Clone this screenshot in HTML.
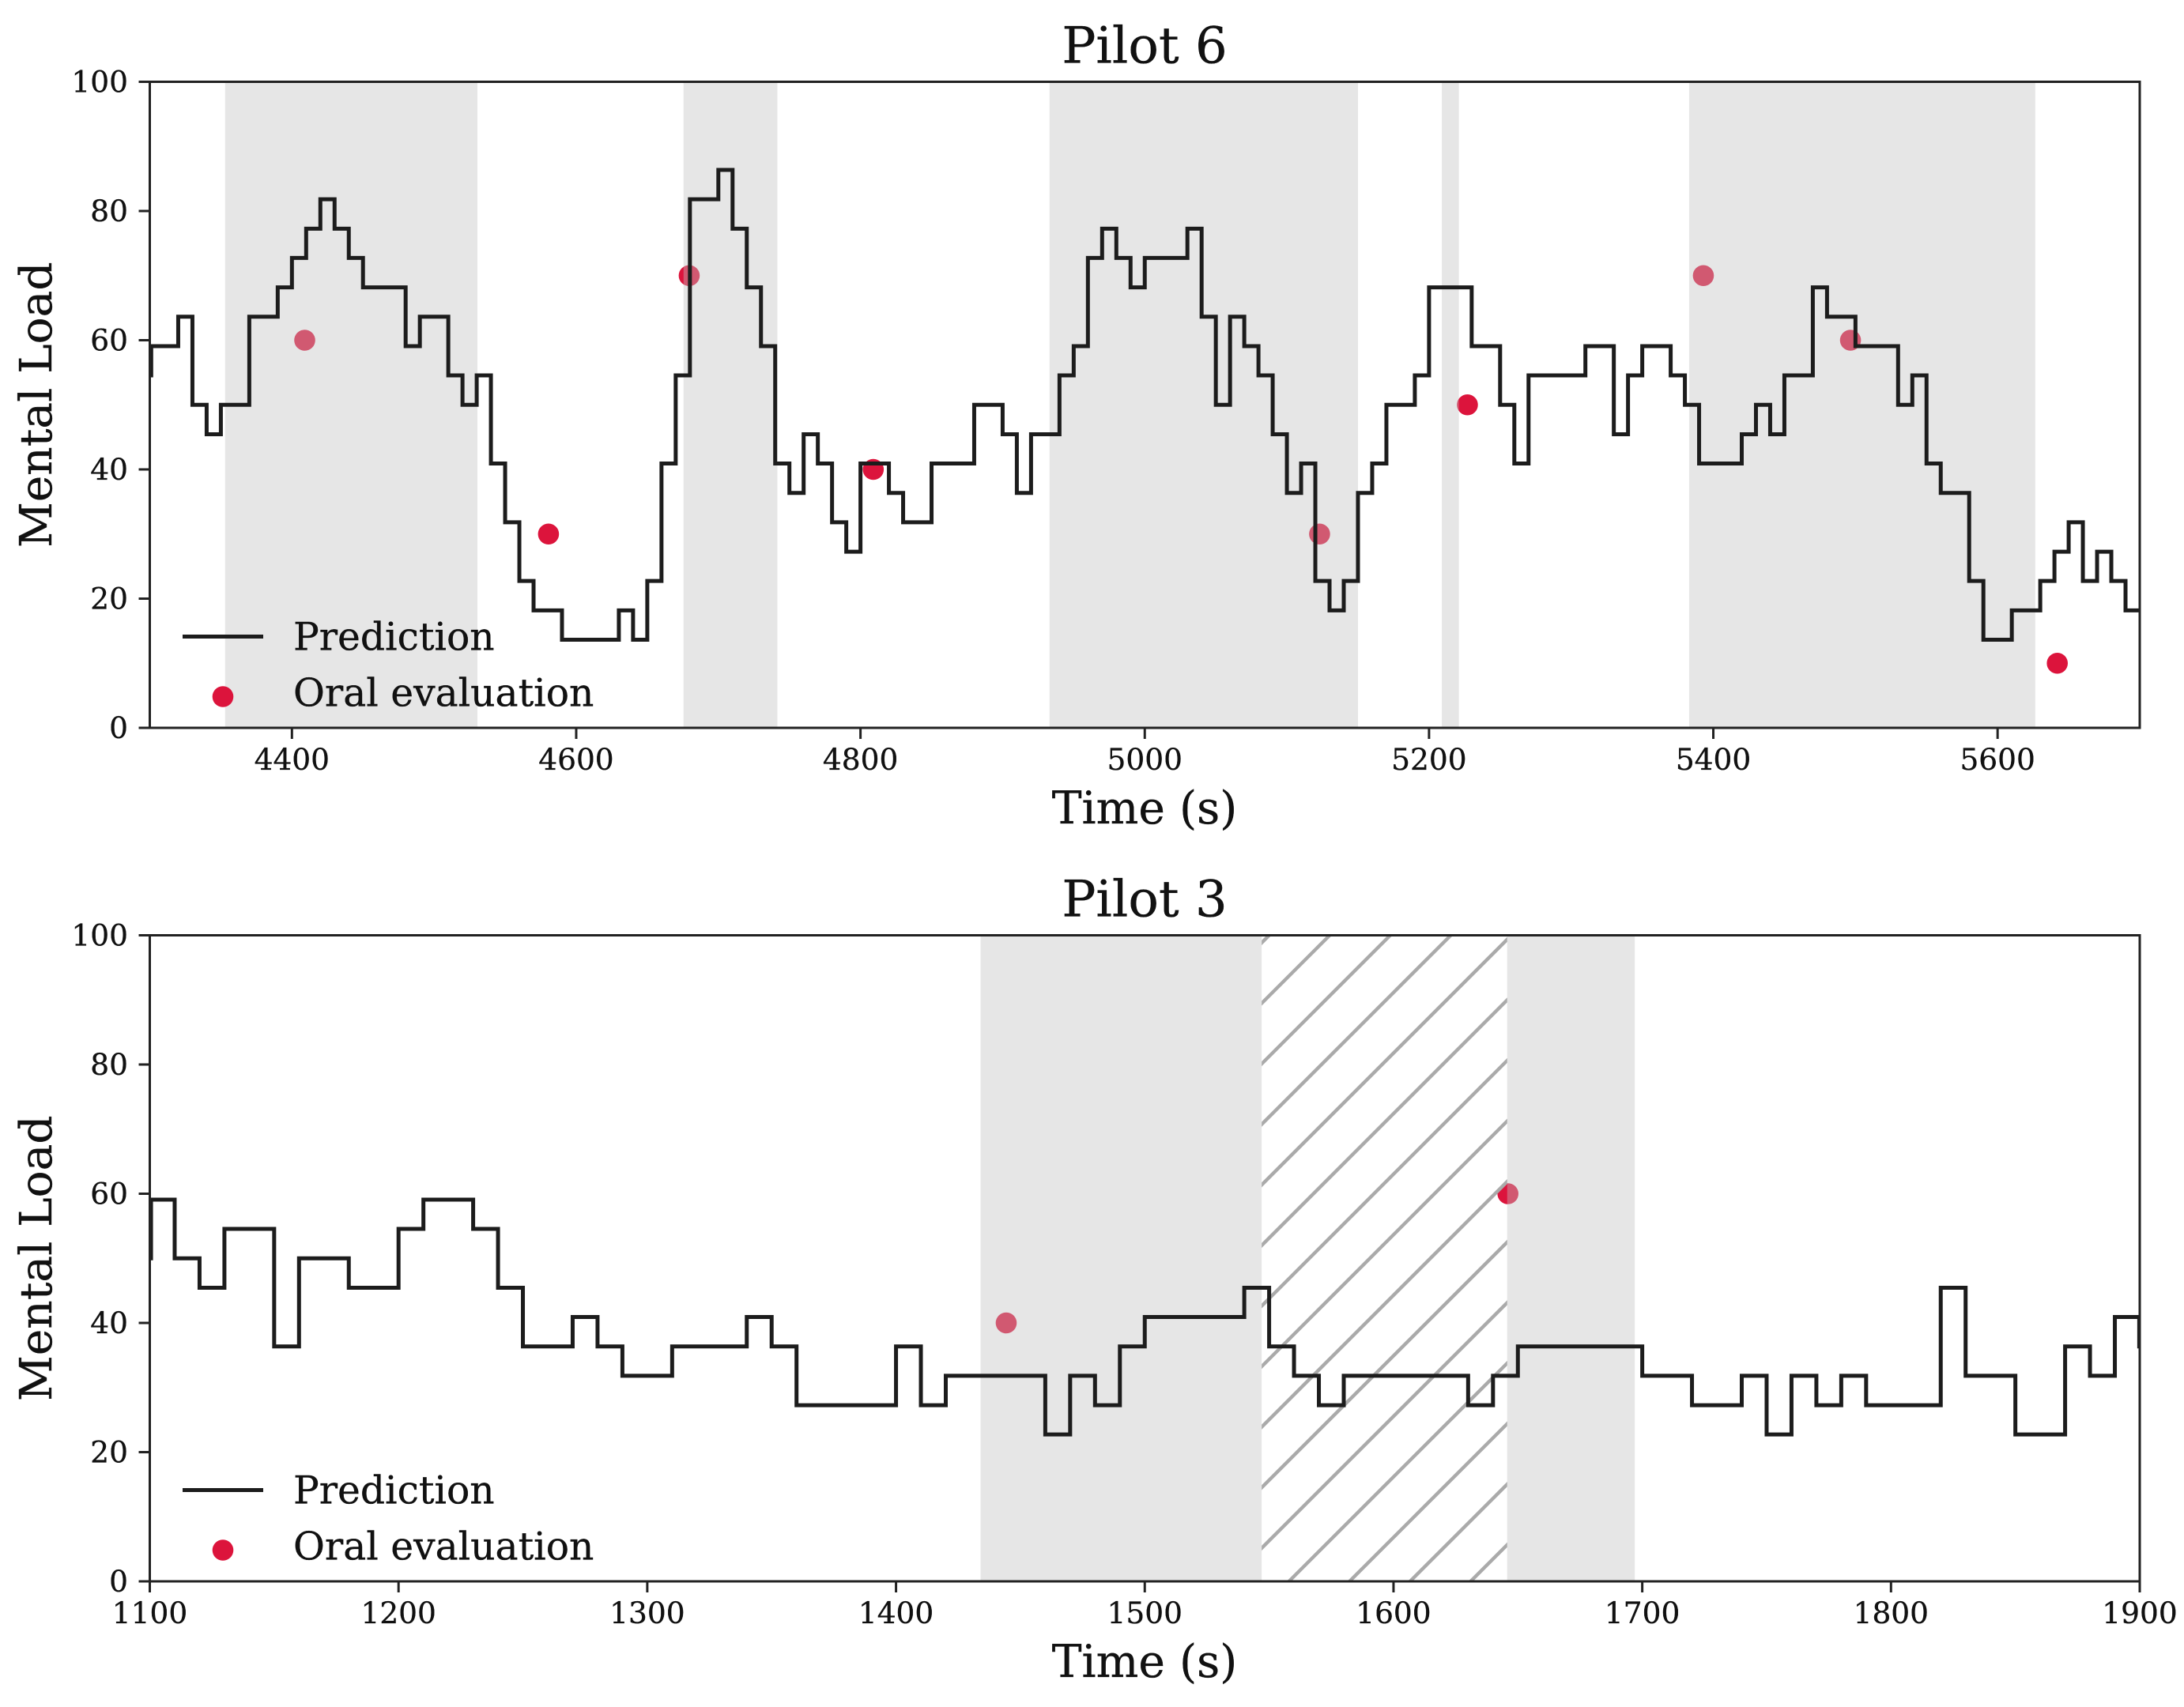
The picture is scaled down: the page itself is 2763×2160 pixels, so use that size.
<!DOCTYPE html>
<html>
<head>
<meta charset="utf-8">
<title>Mental load prediction</title>
<style>
html,body{margin:0;padding:0;background:#fff;width:2763px;height:2160px;overflow:hidden}
svg{display:block}
text{font-family:"DejaVu Serif","Liberation Serif",serif;fill:#111;stroke:#111;stroke-width:0.35px}
</style>
</head>
<body>
<svg id="figure" xmlns="http://www.w3.org/2000/svg" width="2763" height="2160" viewBox="0 0 2763 2160"></svg>
<script>
var yTicks = [0, 20, 40, 60, 80, 100];

var p6Ticks = [4400, 4600, 4800, 5000, 5200, 5400, 5600];
var p6Times = [4300,4301,4320,4330,4340,4350,4370,4390,4400,4410,4420,4430,4440,4450,4480,4490,4510,4520,4530,4540,4550,4560,4570,4590,4630,4640,4650,4660,4670,4680,4700,4710,4720,4730,4740,4750,4760,4770,4780,4790,4800,4820,4830,4850,4880,4900,4910,4920,4940,4950,4960,4970,4980,4990,5000,5030,5040,5050,5060,5070,5080,5090,5100,5110,5120,5130,5140,5150,5160,5170,5190,5200,5230,5250,5260,5270,5310,5330,5340,5350,5370,5380,5390,5420,5430,5440,5450,5470,5480,5500,5530,5540,5550,5560,5580,5590,5610,5630,5640,5650,5660,5670,5680,5690,5700];
var p6Values = [54.55,59.09,63.64,50,45.45,50,63.64,68.18,72.73,77.27,81.82,77.27,72.73,68.18,59.09,63.64,54.55,50,54.55,40.91,31.82,22.73,18.18,13.64,18.18,13.64,22.73,40.91,54.55,81.82,86.36,77.27,68.18,59.09,40.91,36.36,45.45,40.91,31.82,27.27,40.91,36.36,31.82,40.91,50,45.45,36.36,45.45,54.55,59.09,72.73,77.27,72.73,68.18,72.73,77.27,63.64,50,63.64,59.09,54.55,45.45,36.36,40.91,22.73,18.18,22.73,36.36,40.91,50,54.55,68.18,59.09,50,40.91,54.55,59.09,45.45,54.55,59.09,54.55,50,40.91,45.45,50,45.45,54.55,68.18,63.64,59.09,50,54.55,40.91,36.36,22.73,13.64,18.18,22.73,27.27,31.82,22.73,27.27,22.73,18.18,18.18];
var p6OralTimes = [4409, 4580.5, 4679.5, 4809, 5123, 5227, 5393, 5496.5, 5642];
var p6OralValues = [60, 30, 70, 40, 30, 50, 70, 60, 10];
var p6ShadeStarts = [4353, 4675.5, 4933, 5209, 5383];
var p6ShadeEnds = [4530.5, 4741.5, 5150, 5221, 5626.5];
var p6HatchStarts = [];
var p6HatchEnds = [];

var p3Ticks = [1100, 1200, 1300, 1400, 1500, 1600, 1700, 1800, 1900];
var p3Times = [1100,1100.5,1110,1120,1130,1150,1160,1180,1200,1210,1230,1240,1250,1270,1280,1290,1310,1340,1350,1360,1400,1410,1420,1460,1470,1480,1490,1500,1540,1550,1560,1570,1580,1630,1640,1650,1700,1720,1740,1750,1760,1770,1780,1790,1820,1830,1850,1870,1880,1890,1899.8,1900];
var p3Values = [50,59.09,50,45.45,54.55,36.36,50,45.45,54.55,59.09,54.55,45.45,36.36,40.91,36.36,31.82,36.36,40.91,36.36,27.27,36.36,27.27,31.82,22.73,31.82,27.27,36.36,40.91,45.45,36.36,31.82,27.27,31.82,27.27,31.82,36.36,31.82,27.27,31.82,22.73,31.82,27.27,31.82,27.27,45.45,31.82,22.73,36.36,31.82,40.91,36.36,36.36];
var p3OralTimes = [1444.3, 1646];
var p3OralValues = [40, 60];
var p3ShadeStarts = [1434, 1645.7];
var p3ShadeEnds = [1547, 1697];
var p3HatchStarts = [1547];
var p3HatchEnds = [1645.7];

var NS = 'http://www.w3.org/2000/svg';
var svg = document.getElementById('figure');
var plotLeft = 189.5, plotRight = 2707, plotWidth = plotRight - plotLeft, plotHeight = 817.5;

function make(parent, tag, attrs, txt) {
  var el = document.createElementNS(NS, tag);
  for (var k in attrs) el.setAttribute(k, attrs[k]);
  if (txt !== undefined) el.textContent = txt;
  parent.appendChild(el);
  return el;
}

function drawPanel(prefix, title, top, xMin, xMax, xTicks, times, values, oralTimes, oralValues, shadeStarts, shadeEnds, hatchStarts, hatchEnds) {
  var bottom = top + plotHeight;
  function xs(t) { return plotLeft + (t - xMin) / (xMax - xMin) * plotWidth; }
  function ys(v) { return bottom - v / 100 * plotHeight; }

  var g = make(svg, 'g', {});
  
  

  var clipId = prefix + '-clip';
  var defs = make(g, 'defs', {});
  var clip = make(defs, 'clipPath', {id: clipId});
  make(clip, 'rect', {x: plotLeft, y: top, width: plotWidth, height: plotHeight});

  var plot = make(g, 'g', {'clip-path': 'url(#' + clipId + ')'});

  // oral evaluation dots sit underneath the translucent shading
  for (var i = 0; i < oralTimes.length; i++) {
    var dot = make(plot, 'circle', {cx: xs(oralTimes[i]), cy: ys(oralValues[i]), r: 13.3, fill: '#dc143c'});
    
    
  }

  for (var s = 0; s < shadeStarts.length; s++) {
    var band = make(plot, 'rect', {x: xs(shadeStarts[s]), y: top, width: xs(shadeEnds[s]) - xs(shadeStarts[s]), height: plotHeight, fill: 'rgb(192,192,192)', 'fill-opacity': 0.4});
    
    
  }

  for (var h = 0; h < hatchStarts.length; h++) {
    var hClipId = prefix + '-hatch-clip-' + h;
    var hClip = make(defs, 'clipPath', {id: hClipId});
    var hx0 = xs(hatchStarts[h]), hx1 = xs(hatchEnds[h]);
    make(hClip, 'rect', {x: hx0, y: top, width: hx1 - hx0, height: plotHeight});
    var hg = make(plot, 'g', {'clip-path': 'url(#' + hClipId + ')', stroke: '#aaaaaa', 'stroke-width': 4.4});
    
    
    var spacing = 76.6;
    for (var c = 2942.3 - 12 * spacing; c < 2942.3 + 20 * spacing; c += spacing) {
      var segStart = Math.max(hx0, c - bottom);
      var segEnd = Math.min(hx1, c - top);
      if (segEnd > segStart) {
        make(hg, 'line', {x1: segStart - 4, y1: c - segStart + 4, x2: segEnd + 4, y2: c - segEnd - 4});
      }
    }
  }

  var d = 'M' + xs(times[0]).toFixed(2) + ' ' + ys(values[0]).toFixed(2);
  for (var j = 1; j < times.length; j++) {
    d += 'H' + xs(times[j]).toFixed(2);
    d += 'V' + ys(values[j]).toFixed(2);
  }
  var line = make(plot, 'path', {d: d, fill: 'none', stroke: '#1c1c1c', 'stroke-width': 5, 'stroke-linejoin': 'miter'});
  
  

  var frame = make(g, 'rect', {x: plotLeft, y: top, width: plotWidth, height: plotHeight, fill: 'none', stroke: '#222', 'stroke-width': 3});
  
  

  for (var a = 0; a < yTicks.length; a++) {
    var ty = ys(yTicks[a]);
    var ytick = make(g, 'line', {x1: plotLeft - 14, y1: ty, x2: plotLeft, y2: ty, stroke: '#222', 'stroke-width': 3});
    
    
    var ylab = make(g, 'text', {x: 162, y: ty + 13, 'text-anchor': 'end', 'font-size': 37.5}, String(yTicks[a]));
    
    
  }

  for (var b = 0; b < xTicks.length; b++) {
    var tx = xs(xTicks[b]);
    var xtick = make(g, 'line', {x1: tx, y1: bottom, x2: tx, y2: bottom + 14, stroke: '#222', 'stroke-width': 3});
    
    
    var xlab = make(g, 'text', {x: tx, y: bottom + 53, 'text-anchor': 'middle', 'font-size': 37.5}, String(xTicks[b]));
    
    
  }

  var titleEl = make(g, 'text', {x: 1448, y: top - 24, 'text-anchor': 'middle', 'font-size': 64}, title);
  
  

  var xTitle = make(g, 'text', {x: 1448, y: bottom + 121, 'text-anchor': 'middle', 'font-size': 56.7}, 'Time (s)');
  
  

  var yc = top + plotHeight / 2;
  var yTitle = make(g, 'text', {x: 0, y: 0, 'text-anchor': 'middle', 'font-size': 56.5, transform: 'translate(65 ' + yc + ') rotate(-90)'}, 'Mental Load');
  
  

  var legend = make(g, 'g', {});
  
  
  var legendLine = make(legend, 'line', {x1: 231, y1: top + 702, x2: 333, y2: top + 702, stroke: '#1c1c1c', 'stroke-width': 5});
  
  
  var legendPred = make(legend, 'text', {x: 371, y: top + 719, 'font-size': 48.7}, 'Prediction');
  
  
  var legendDot = make(legend, 'circle', {cx: 282, cy: top + 778, r: 13.3, fill: '#dc143c'});
  
  
  var legendOral = make(legend, 'text', {x: 371, y: top + 790, 'font-size': 48.7}, 'Oral evaluation');
  
  
}

drawPanel('pilot-6', 'Pilot 6', 103.5, 4300, 5700, p6Ticks, p6Times, p6Values, p6OralTimes, p6OralValues, p6ShadeStarts, p6ShadeEnds, p6HatchStarts, p6HatchEnds);
drawPanel('pilot-3', 'Pilot 3', 1183.5, 1100, 1900, p3Ticks, p3Times, p3Values, p3OralTimes, p3OralValues, p3ShadeStarts, p3ShadeEnds, p3HatchStarts, p3HatchEnds);
</script>
</body>
</html>
